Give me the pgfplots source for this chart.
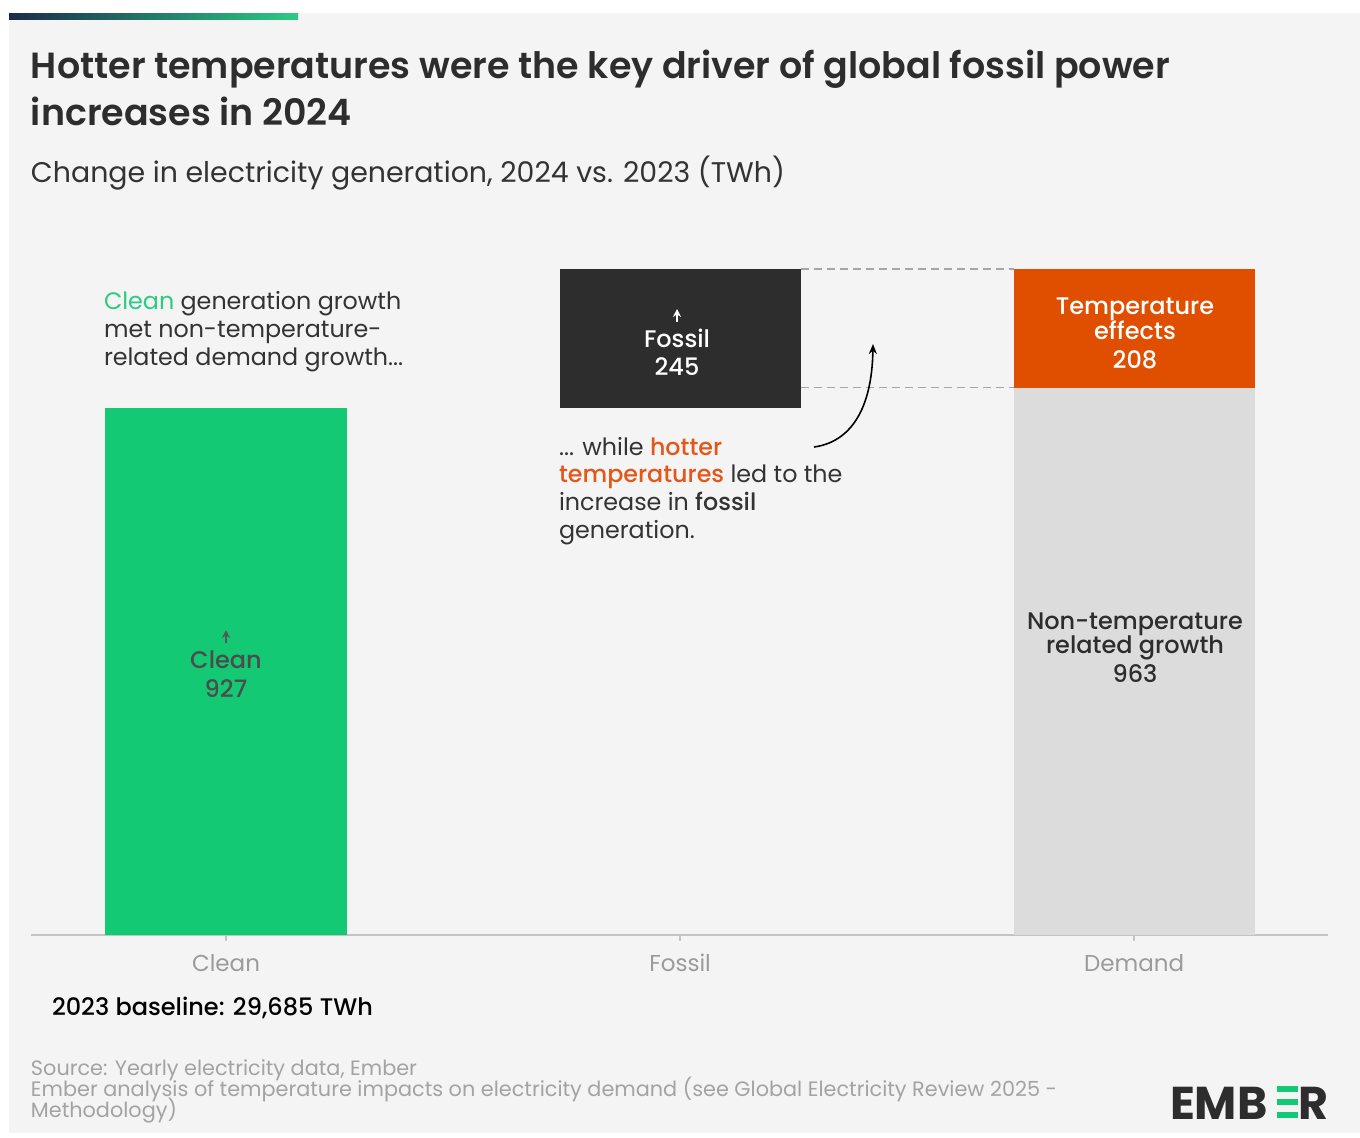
\documentclass[border=0pt]{standalone}
\usepackage{pgfplots}
\pgfplotsset{compat=1.18}
\usepackage{fontspec}
\setmainfont{Poppins}
\newfontfamily\semib{Poppins SemiBold}
\newfontfamily\medf{Poppins Medium}
\usetikzlibrary{arrows.meta}

\definecolor{bg}{HTML}{F4F4F4}
\definecolor{cleangreen}{HTML}{13C974}
\definecolor{fossildark}{HTML}{2D2D2D}
\definecolor{tempor}{HTML}{E04F00}
\definecolor{demgray}{HTML}{DCDCDC}
\definecolor{axisgray}{HTML}{C4C4C4}
\definecolor{ticktext}{HTML}{9B9B9B}
\definecolor{srctext}{HTML}{A3A3A3}
\definecolor{bodytext}{HTML}{333333}
\definecolor{navy}{HTML}{1B2B4B}
\definecolor{hlgreen}{HTML}{2BCB84}
\definecolor{hlorange}{HTML}{E2571A}

\begin{document}
\begin{tikzpicture}
% background, 1px = 0.5pt, origin at top left
\begin{scope}[x=0.5pt,y=-0.5pt]
\fill[white] (0,0) rectangle (1360,1137);
\fill[bg] (9,13) rectangle (1360,1133);
\shade[left color=navy, right color=hlgreen] (9,13) rectangle (298,19);
\end{scope}

\begin{axis}[
    at={(15.5pt,-467.5pt)}, anchor=south west,
    scale only axis, width=648.5pt, height=341pt,
    xmin=-0.4295, xmax=2.427, ymin=0, ymax=1200,
    ybar stacked, bar width=0.531,
    axis y line=none, axis x line*=bottom,
    axis line style={draw=axisgray, line width=0.8pt},
    xtick={0,1,2}, xticklabels={Clean,Fossil,Demand},
    xtick style={draw=axisgray, line width=0.8pt},
    major tick length=3pt, tick align=outside,
    xticklabel style={font=\fontsize{11.5}{13}\selectfont, text=ticktext, yshift=-3pt},
    clip=false,
]
\addplot[fill=cleangreen, draw=none] coordinates {(0,927) (1,0) (2,0)};
\addplot[fill=none, draw=none] coordinates {(0,0) (1,927) (2,0)};
\addplot[fill=demgray, draw=none] coordinates {(0,0) (1,0) (2,963)};
\addplot[fill=fossildark, draw=none] coordinates {(0,0) (1,245) (2,0)};
\addplot[fill=tempor, draw=none] coordinates {(0,0) (1,0) (2,208)};
\draw[dashed, gray!70, line width=0.7pt, dash pattern=on 4pt off 2.5pt]
    (axis cs:1.2655,1172) -- (axis cs:1.7345,1172)
    (axis cs:1.2655,963) -- (axis cs:1.7345,963);
\end{axis}

\begin{scope}[x=0.5pt,y=-0.5pt, every node/.style={inner sep=0pt, outer sep=0pt}]
% titles
\node[anchor=base west, text=fossildark] at (31,78)
  {\semib\fontsize{18.2}{21}\selectfont Hotter temperatures were the key driver of global fossil power};
\node[anchor=base west, text=fossildark] at (31,125)
  {\semib\fontsize{18.2}{21}\selectfont increases in 2024};
\node[anchor=base west, text=bodytext] at (31,182)
  {\fontsize{14.2}{17}\selectfont Change in electricity generation, 2024 vs. 2023 (TWh)};

% annotations
\begin{scope}[every node/.append style={anchor=base west, text=bodytext, font=\fontsize{11.9}{14}\selectfont}]
\node at (104,309) {\textcolor{hlgreen}{Clean} generation growth};
\node at (104,337) {met non-temperature-};
\node at (104,365) {related demand growth...};
\node at (559,455) {... while \textcolor{hlorange}{\medf hotter}};
\node at (559,482) {\textcolor{hlorange}{\medf temperatures} led to the};
\node at (559,510) {increase in {\medf fossil}};
\node at (559,538) {generation.};
\end{scope}

% curved arrow
\draw[line width=0.8pt, -{Stealth[length=5pt,width=4pt]}]
  (814,447) .. controls (850,442) and (872,410) .. (873,344);

% bar labels
\begin{scope}[every node/.append style={anchor=base, font=\medf\fontsize{12}{14}\selectfont}]
\draw[fossildark!80, line width=0.9pt, -{Stealth[length=4pt,width=4pt]}] (226,643) -- (226,630);
\node[text=fossildark!85] at (226,668) {Clean};
\node[text=fossildark!85] at (226,697) {927};
\draw[white, line width=0.9pt, -{Stealth[length=4pt,width=4pt]}] (677,322) -- (677,309);
\node[text=white] at (677,347) {Fossil};
\node[text=white] at (677,375) {245};
\node[text=white] at (1135,314) {Temperature};
\node[text=white] at (1135,339) {effects};
\node[text=white] at (1135,368) {208};
\node[text=fossildark] at (1135,629) {Non-temperature};
\node[text=fossildark] at (1135,653) {related growth};
\node[text=fossildark] at (1135,682) {963};
\end{scope}

% baseline and source
\node[anchor=base west, text=black] at (52,1015) {\medf\fontsize{12}{14}\selectfont 2023 baseline: 29,685 TWh};
\begin{scope}[every node/.append style={anchor=base west, text=srctext, font=\fontsize{10.4}{12}\selectfont}]
\node at (31,1075) {Source: Yearly electricity data, Ember};
\node at (31,1096) {Ember analysis of temperature impacts on electricity demand (see Global Electricity Review 2025 -};
\node at (31,1117) {Methodology)};
\end{scope}

% logo
\node[anchor=base west, text=fossildark] at (1170,1119) {\bfseries\fontsize{23}{25}\selectfont EMB};
\fill[cleangreen] (1277,1086) rectangle (1298,1092);
\fill[cleangreen] (1277,1099) rectangle (1298,1105);
\fill[cleangreen] (1277,1112) rectangle (1298,1118);
\node[anchor=base east, text=fossildark] at (1328,1119) {\bfseries\fontsize{23}{25}\selectfont R};
\end{scope}
\end{tikzpicture}
\end{document}
